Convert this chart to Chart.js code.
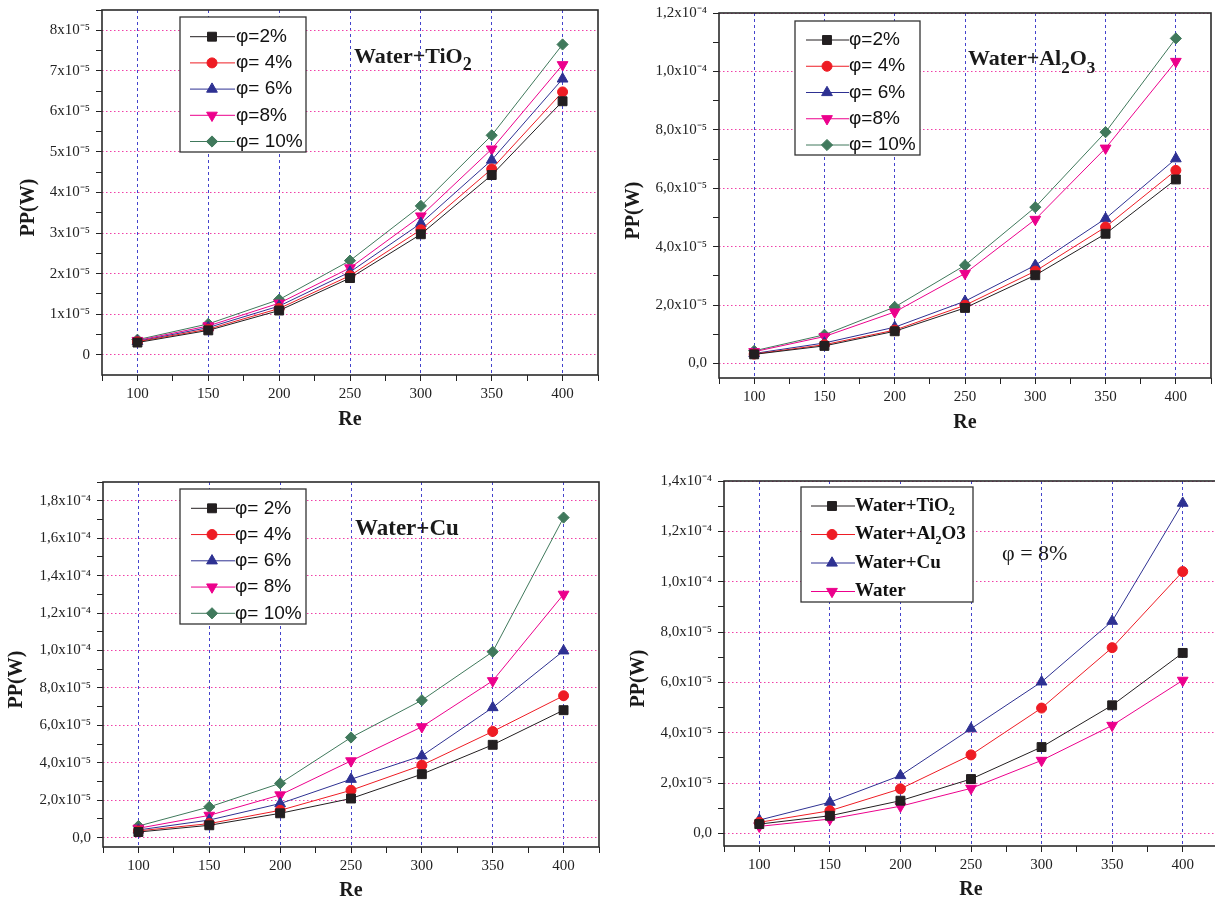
<!DOCTYPE html>
<html>
<head>
<meta charset="utf-8">
<title>PP(W) vs Re</title>
<script src="https://cdn.jsdelivr.net/npm/chart.js@4.4.1/dist/chart.umd.min.js"></script>
<style>
  html, body { margin: 0; padding: 0; background: #fff; overflow: hidden; }
  body { width: 1215px; height: 901px; position: relative; }
  .panel { position: absolute; }
</style>
</head>
<body>
<div class="panel" style="left:0;top:0;width:600px;height:440px"><canvas id="tio2Chart"></canvas></div>
<div class="panel" style="left:610px;top:0;width:605px;height:440px"><canvas id="al2o3Chart"></canvas></div>
<div class="panel" style="left:0;top:460px;width:600px;height:441px"><canvas id="cuChart"></canvas></div>
<div class="panel" style="left:610px;top:460px;width:610px;height:441px"><canvas id="compareChart"></canvas></div>

<script>
// Reynolds numbers (x axis)
const re = [100, 150, 200, 250, 300, 350, 400];
const reLabels = ['100', '150', '200', '250', '300', '350', '400'];

// pumping power, in units of 1e-5 W
const tio2Phi2  = [0.30, 0.60, 1.09, 1.89, 2.97, 4.43, 6.25];
const tio2Phi4  = [0.32, 0.63, 1.14, 1.95, 3.08, 4.58, 6.48];
const tio2Phi6  = [0.33, 0.67, 1.20, 2.04, 3.24, 4.80, 6.80];
const tio2Phi8  = [0.35, 0.71, 1.27, 2.14, 3.42, 5.07, 7.15];
const tio2Phi10 = [0.37, 0.76, 1.36, 2.32, 3.67, 5.41, 7.65];

const al2o3Phi2  = [0.31, 0.60, 1.10, 1.90, 3.02, 4.44, 6.30];
const al2o3Phi4  = [0.32, 0.64, 1.14, 1.99, 3.16, 4.67, 6.61];
const al2o3Phi6  = [0.34, 0.70, 1.24, 2.13, 3.36, 4.96, 7.01];
const al2o3Phi8  = [0.40, 0.92, 1.76, 3.08, 4.93, 7.37, 10.34];
const al2o3Phi10 = [0.43, 0.98, 1.93, 3.36, 5.35, 7.92, 11.13];

const cuPhi2  = [0.30, 0.66, 1.30, 2.09, 3.39, 4.96, 6.81];
const cuPhi4  = [0.36, 0.75, 1.46, 2.53, 3.87, 5.67, 7.58];
const cuPhi6  = [0.41, 0.94, 1.82, 3.12, 4.37, 6.95, 9.98];
const cuPhi8  = [0.50, 1.19, 2.28, 4.10, 5.92, 8.38, 13.00];
const cuPhi10 = [0.62, 1.64, 2.90, 5.35, 7.34, 9.93, 17.10];

// phi = 8% comparison
const cmpTio2  = [0.37, 0.70, 1.30, 2.16, 3.43, 5.09, 7.17];
const cmpAl2o3 = [0.44, 0.90, 1.77, 3.12, 4.98, 7.38, 10.40];
const cmpCu    = [0.53, 1.24, 2.30, 4.16, 6.02, 8.43, 13.12];
const cmpWater = [0.28, 0.57, 1.08, 1.79, 2.90, 4.29, 6.08];

// y tick labels
const tio2YLabels = ['0', '1x10⁻⁵', '2x10⁻⁵', '3x10⁻⁵', '4x10⁻⁵', '5x10⁻⁵', '6x10⁻⁵', '7x10⁻⁵', '8x10⁻⁵'];
const commaYLabels = ['0,0', '2,0x10⁻⁵', '4,0x10⁻⁵', '6,0x10⁻⁵', '8,0x10⁻⁵', '1,0x10⁻⁴', '1,2x10⁻⁴', '1,4x10⁻⁴', '1,6x10⁻⁴', '1,8x10⁻⁴'];

const phiLabelsA = ['φ=2%', 'φ= 4%', 'φ= 6%', 'φ=8%', 'φ= 10%'];
const phiLabelsB = ['φ= 2%', 'φ= 4%', 'φ= 6%', 'φ= 8%', 'φ= 10%'];
const fluidLabels = ['Water+TiO_2', 'Water+Al_2O3', 'Water+Cu', 'Water'];

const yTitle = 'PP(W)';
const xTitle = 'Re';

const BLACK = '#231f20', RED = '#ee1c24', BLUE = '#2e3192', PINK = '#ec008c', GREEN = '#40795c';
const SERIF = "'Liberation Serif', 'Times New Roman', serif";
const SANS = "'Liberation Sans', Arial, sans-serif";

// marker look for each series slot
const markers = [
    { color: BLACK, style: 'rect', rotation: 0, radius: 6.3 },
    { color: RED, style: 'circle', rotation: 0, radius: 5 },
    { color: BLUE, style: 'triangle', rotation: 0, radius: 6.2 },
    { color: PINK, style: 'triangle', rotation: 180, radius: 6.2 },
    { color: GREEN, style: 'rectRot', rotation: 0, radius: 5.6 }
];

function series(label, values, m) {
    return {
        label: label,
        data: re.map((r, i) => ({ x: r, y: values[i] })),
        borderColor: m.color,
        backgroundColor: m.color,
        pointBackgroundColor: m.color,
        pointBorderColor: m.color,
        borderWidth: 1,
        pointStyle: m.style,
        pointRotation: m.rotation,
        pointRadius: m.radius,
        pointHoverRadius: m.radius,
        pointBorderWidth: 1,
        tension: 0
    };
}

// text with "_x" meaning subscript x
function drawRich(ctx, text, x, y, f) {
    const parts = text.split(/(_.)/).filter(Boolean);
    parts.forEach(p => {
        const sub = p[0] === '_';
        const t = sub ? p.slice(1) : p;
        ctx.font = f.weight + ' ' + (sub ? f.sub : f.size) + 'px ' + f.family;
        ctx.fillText(t, x, y + (sub ? f.dy : 0));
        x += ctx.measureText(t).width;
    });
}

const framePlugin = {
    id: 'panelDecor',
    beforeDatasetsDraw(chart, args, opts) {
        const ctx = chart.ctx;
        const a = chart.chartArea;
        ctx.save();

        // plot frame
        ctx.strokeStyle = '#2b2b2b';
        ctx.lineWidth = 1.6;
        ctx.strokeRect(a.left, a.top, a.right - a.left, a.bottom - a.top);

        // boxed legend
        const L = opts.legend;
        ctx.fillStyle = '#fff';
        ctx.fillRect(L.box[0], L.box[1], L.box[2], L.box[3]);
        ctx.lineWidth = 1.3;
        ctx.strokeStyle = '#333';
        ctx.strokeRect(L.box[0], L.box[1], L.box[2], L.box[3]);
        chart.data.datasets.forEach((ds, i) => {
            const y = L.rowY + i * L.rowStep;
            ctx.lineWidth = 1;
            ctx.strokeStyle = ds.borderColor;
            ctx.beginPath();
            ctx.moveTo(L.lineX[0], y);
            ctx.lineTo(L.lineX[1], y);
            ctx.stroke();
            ctx.fillStyle = ds.pointBackgroundColor;
            Chart.helpers.drawPoint(ctx, {
                pointStyle: ds.pointStyle, rotation: ds.pointRotation,
                radius: ds.pointRadius, borderWidth: 1
            }, L.markX, y);
            ctx.fillStyle = '#111';
            ctx.textAlign = 'left';
            ctx.textBaseline = 'middle';
            drawRich(ctx, ds.label, L.textX, y, L.font);
        });

        // panel note
        const N = opts.note;
        ctx.fillStyle = '#1a1a1a';
        ctx.textBaseline = 'alphabetic';
        drawRich(ctx, N.text, N.x, N.y, N.font);

        // y axis title
        ctx.translate(opts.yTitleX, (a.top + a.bottom) / 2 + 15);
        ctx.rotate(-Math.PI / 2);
        ctx.textAlign = 'center';
        ctx.textBaseline = 'middle';
        ctx.font = 'bold 20px ' + SERIF;
        ctx.fillText(yTitle, 0, 0);
        ctx.restore();
    }
};

function range(max, step) {
    const v = [];
    for (let i = 0; i * step <= max + 1e-9; i++) v.push(+(i * step).toFixed(3));
    return v;
}

function makeChart(id, datasets, cfg) {
    const yVals = range(cfg.yMax, cfg.yMinor);
    const xVals = range(350, 25).map(v => v + 75);
    const isMajorY = v => Math.abs(v / cfg.yMajor - Math.round(v / cfg.yMajor)) < 1e-6;
    const tickFont = { family: SERIF, size: 15 };

    return new Chart(document.getElementById(id), {
        type: 'line',
        data: { datasets: datasets },
        plugins: [framePlugin],
        options: {
            responsive: true,
            maintainAspectRatio: false,
            animation: false,
            layout: { autoPadding: false, padding: { top: cfg.padTop, right: cfg.padRight, left: 0, bottom: 0 } },
            plugins: {
                legend: { display: false },
                tooltip: { enabled: false },
                panelDecor: { legend: cfg.legend, note: cfg.note, yTitleX: cfg.yTitleX }
            },
            scales: {
                x: {
                    type: 'linear',
                    min: 75,
                    max: 425,
                    bounds: 'data',
                    afterBuildTicks: s => { s.ticks = xVals.map(v => ({ value: v })); },
                    afterFit: s => { s.height = cfg.xH; s.paddingLeft = 0; s.paddingRight = 0; },
                    ticks: {
                        autoSkip: false,
                        maxRotation: 0,
                        padding: 4,
                        color: '#222',
                        font: tickFont,
                        callback: v => { const i = re.indexOf(v); return i >= 0 ? reLabels[i] : ''; }
                    },
                    grid: {
                        color: c => (c.tick && re.includes(c.tick.value)) ? '#4444cc' : 'rgba(0,0,0,0)',
                        tickColor: '#222',
                        tickLength: 6,
                        lineWidth: 1
                    },
                    border: { display: false, dash: [3, 3] },
                    title: {
                        display: true,
                        text: xTitle,
                        color: '#1a1a1a',
                        font: { family: SERIF, size: 20, weight: 'bold', lineHeight: 1 },
                        padding: { top: 0, bottom: cfg.xTitlePad }
                    }
                },
                y: {
                    type: 'linear',
                    min: -0.5,
                    max: cfg.yMax,
                    bounds: 'data',
                    afterBuildTicks: s => { s.ticks = yVals.map(v => ({ value: v })); },
                    afterFit: s => { s.width = cfg.yW; s.paddingTop = 0; s.paddingBottom = 0; },
                    ticks: {
                        autoSkip: false,
                        padding: 6,
                        color: '#222',
                        font: tickFont,
                        callback: v => isMajorY(v) ? cfg.yLabels[Math.round(v / cfg.yMajor)] || '' : ''
                    },
                    grid: {
                        color: c => (c.tick && isMajorY(c.tick.value)) ? '#f040a8' : 'rgba(0,0,0,0)',
                        tickColor: '#222',
                        tickLength: 6,
                        lineWidth: 1
                    },
                    border: { display: false, dash: [1.5, 2.5] }
                }
            }
        }
    });
}

document.addEventListener('DOMContentLoaded', function() {
    const phiFont = { weight: 'normal', size: 19, sub: 19, dy: 0, family: SANS };
    const noteFont = { weight: 'bold', size: 22, sub: 18, dy: 7, family: SERIF };

    // Water+TiO2
    makeChart('tio2Chart', [
        series(phiLabelsA[0], tio2Phi2, markers[0]),
        series(phiLabelsA[1], tio2Phi4, markers[1]),
        series(phiLabelsA[2], tio2Phi6, markers[2]),
        series(phiLabelsA[3], tio2Phi8, markers[3]),
        series(phiLabelsA[4], tio2Phi10, markers[4])
    ], {
        yMax: 8.5, yMinor: 0.5, yMajor: 1, yLabels: tio2YLabels,
        yW: 102, xH: 65, padTop: 10, padRight: 2, xTitlePad: 10, yTitleX: 29,
        legend: { box: [180, 17, 126, 135], rowY: 36.7, rowStep: 26.2, lineX: [190, 235], markX: 212, textX: 236, font: phiFont },
        note: { text: 'Water+TiO_2', x: 354, y: 63, font: noteFont }
    });

    // Water+Al2O3
    makeChart('al2o3Chart', [
        series(phiLabelsA[0], al2o3Phi2, markers[0]),
        series(phiLabelsA[1], al2o3Phi4, markers[1]),
        series(phiLabelsA[2], al2o3Phi6, markers[2]),
        series(phiLabelsA[3], al2o3Phi8, markers[3]),
        series(phiLabelsA[4], al2o3Phi10, markers[4])
    ], {
        yMax: 12, yMinor: 1, yMajor: 2, yLabels: commaYLabels,
        yW: 109, xH: 62, padTop: 13, padRight: 4, xTitlePad: 7, yTitleX: 24,
        legend: { box: [185, 21, 125, 134], rowY: 40, rowStep: 26.25, lineX: [196, 239], markX: 217, textX: 239, font: phiFont },
        note: { text: 'Water+Al_2O_3', x: 358, y: 65, font: { weight: 'bold', size: 22, sub: 17, dy: 8, family: SERIF } }
    });

    // Water+Cu
    makeChart('cuChart', [
        series(phiLabelsB[0], cuPhi2, markers[0]),
        series(phiLabelsB[1], cuPhi4, markers[1]),
        series(phiLabelsB[2], cuPhi6, markers[2]),
        series(phiLabelsB[3], cuPhi8, markers[3]),
        series(phiLabelsB[4], cuPhi10, markers[4])
    ], {
        yMax: 19, yMinor: 1, yMajor: 2, yLabels: commaYLabels,
        yW: 103, xH: 54, padTop: 22, padRight: 1, xTitlePad: 0, yTitleX: 17,
        legend: { box: [180, 29, 126, 135], rowY: 48.3, rowStep: 26.25, lineX: [191, 235], markX: 212, textX: 235, font: phiFont },
        note: { text: 'Water+Cu', x: 355, y: 75, font: { weight: 'bold', size: 23, sub: 18, dy: 7, family: SERIF } }
    });

    // phi = 8%, all fluids
    makeChart('compareChart', [
        series(fluidLabels[0], cmpTio2, markers[0]),
        series(fluidLabels[1], cmpAl2o3, markers[1]),
        series(fluidLabels[2], cmpCu, markers[2]),
        series(fluidLabels[3], cmpWater, markers[3])
    ], {
        yMax: 14, yMinor: 1, yMajor: 2, yLabels: commaYLabels,
        yW: 114, xH: 55, padTop: 21, padRight: 2, xTitlePad: 1, yTitleX: 29,
        legend: { box: [191, 27, 172, 115], rowY: 46, rowStep: 28.5, lineX: [201, 245], markX: 222, textX: 245,
                  font: { weight: 'bold', size: 19, sub: 12, dy: 6, family: SERIF } },
        note: { text: 'φ = 8%', x: 392, y: 100, font: { weight: 'normal', size: 22, sub: 22, dy: 0, family: SERIF } }
    });
});
</script>
</body>
</html>
